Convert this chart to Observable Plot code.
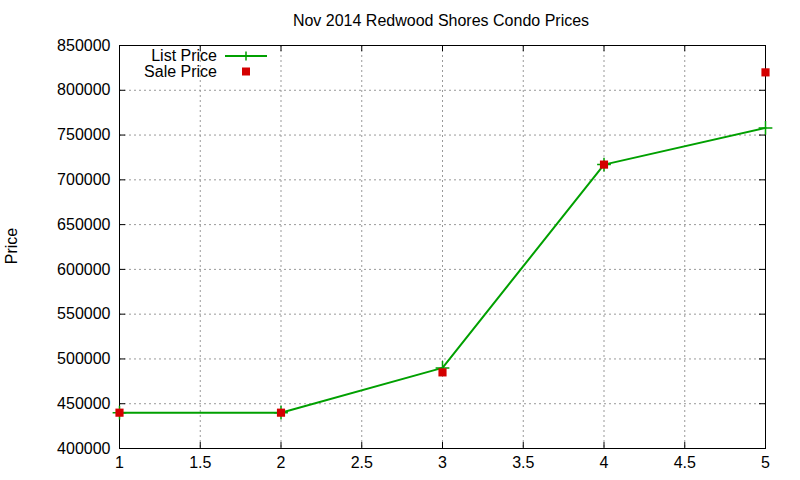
<!DOCTYPE html>
<html>
<head>
<meta charset="utf-8">
<script src="https://cdn.jsdelivr.net/npm/d3@7"></script>
<script src="https://cdn.jsdelivr.net/npm/@observablehq/plot@0.6"></script>
<style>
  html, body { margin: 0; padding: 0; background: #fff; }
  #chart svg { display: block; }
</style>
</head>
<body>
<div id="chart"></div>
<script>
const title = "Nov 2014 Redwood Shores Condo Prices";
const yLabel = "Price";
const xValues = [1, 2, 3, 4, 5];
const listPrice = [440000, 440000, 490000, 717000, 758000];
const salePrice = [440000, 440000, 485000, 717000, 820000];
const xTicks = [1, 1.5, 2, 2.5, 3, 3.5, 4, 4.5, 5];
const yTicks = [400000, 450000, 500000, 550000, 600000, 650000, 700000, 750000, 800000, 850000];
const seriesNames = ["List Price", "Sale Price"];

const listData = xValues.map((x, i) => ({x, y: listPrice[i]}));
const saleData = xValues.map((x, i) => ({x, y: salePrice[i]}));

const green = "#00a000";
const red = "#d40000";
const font = "'Liberation Sans', Arial, sans-serif";

const W = 800, H = 480, mL = 119, mR = 35, mT = 45, mB = 32;
const innerW = W - mL - mR, innerH = H - mT - mB, tickLen = 6;

const chart = Plot.plot({
  width: W,
  height: H,
  marginLeft: mL,
  marginRight: mR,
  marginTop: mT,
  marginBottom: mB,
  style: {fontSize: "16px", fontFamily: font, color: "#000", background: "#fff"},
  x: {domain: [1, 5], ticks: xTicks},
  y: {domain: [400000, 850000], ticks: yTicks},
  marks: [
    Plot.gridX(xTicks, {stroke: "#999", strokeOpacity: 1, strokeDasharray: "2,3"}),
    Plot.gridY(yTicks, {stroke: "#999", strokeOpacity: 1, strokeDasharray: "2,3"}),
    Plot.axisX(xTicks, {tickSize: 0, tickPadding: 8, label: null, tickFormat: d => String(d), fontSize: 16}),
    Plot.axisY(yTicks, {tickSize: 0, tickPadding: 9, label: null, tickFormat: d => String(d), fontSize: 16}),
    Plot.tickY(yTicks, {y: d => d, insetRight: innerW - tickLen, stroke: "#000"}),
    Plot.tickY(yTicks, {y: d => d, insetLeft: innerW - tickLen, stroke: "#000"}),
    Plot.tickX(xTicks, {x: d => d, insetTop: innerH - tickLen, stroke: "#000"}),
    Plot.tickX(xTicks, {x: d => d, insetBottom: innerH - tickLen, stroke: "#000"}),
    Plot.frame({stroke: "#000", strokeWidth: 1}),
    Plot.line(listData, {x: "x", y: "y", stroke: green, strokeWidth: 2}),
    Plot.dot(listData, {x: "x", y: "y", symbol: "plus", r: 4.5, stroke: green, strokeWidth: 1.5}),
    Plot.dot(saleData, {x: "x", y: "y", symbol: "square", r: 4.6, fill: red, stroke: "none"})
  ]
});

document.getElementById("chart").appendChild(chart);

const svg = d3.select(chart);
svg.append("text")
  .attr("x", 441).attr("y", 26)
  .attr("text-anchor", "middle")
  .attr("font-family", font).attr("font-size", 16)
  .attr("fill", "#000")
  .text(title);

svg.append("text")
  .attr("transform", "translate(17,246) rotate(-90)")
  .attr("text-anchor", "middle")
  .attr("font-family", font).attr("font-size", 16)
  .attr("fill", "#000")
  .text(yLabel);

// legend
const lg = svg.append("g").attr("font-family", font).attr("font-size", 16);
lg.append("text").attr("x", 217).attr("y", 61).attr("text-anchor", "end").attr("fill", "#000").text(seriesNames[0]);
lg.append("line").attr("x1", 225).attr("x2", 267).attr("y1", 56).attr("y2", 56).attr("stroke", green).attr("stroke-width", 2);
lg.append("path").attr("d", "M246,51.5v9M241.5,56h9").attr("stroke", green).attr("stroke-width", 1.5);
lg.append("text").attr("x", 217).attr("y", 77).attr("text-anchor", "end").attr("fill", "#000").text(seriesNames[1]);
lg.append("rect").attr("x", 242).attr("y", 67.5).attr("width", 8).attr("height", 8).attr("fill", red);
</script>
</body>
</html>
